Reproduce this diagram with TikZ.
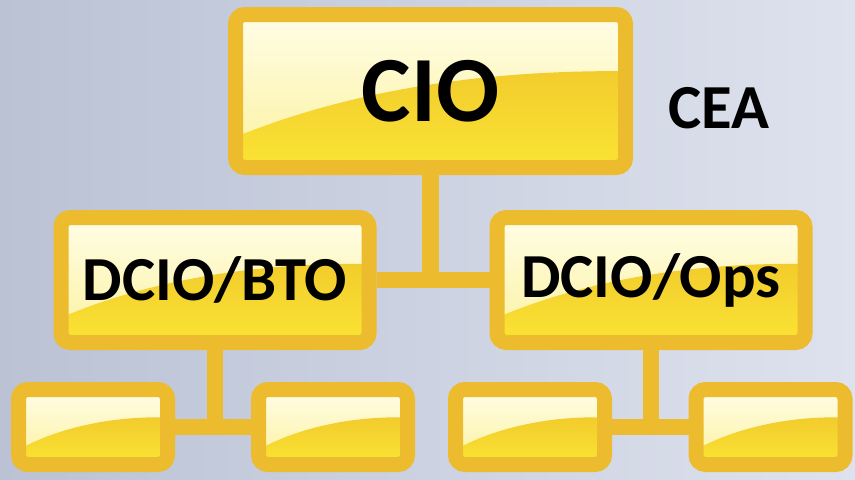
\documentclass[tikz,border=0pt]{standalone}
\usepackage{fontspec}
\setmainfont{Carlito}
\usetikzlibrary{calc,backgrounds}
\definecolor{boxedge}{RGB}{236,188,46}
\definecolor{boxtop}{RGB}{255,253,230}
\definecolor{boxmid}{RGB}{252,242,160}
\definecolor{glosstop}{RGB}{238,190,40}
\definecolor{glossbot}{RGB}{250,228,52}
\definecolor{bgleft}{RGB}{186,194,212}
\definecolor{bgright}{RGB}{222,226,238}

\begin{document}
\begin{tikzpicture}[x=0.75pt,y=-0.75pt,
  orgbox/.style={draw=boxedge,line width=11.25pt,rounded corners=7pt,
    top color=boxtop,bottom color=boxmid,inner sep=0pt,
    path picture={\shade[top color=glosstop,bottom color=glossbot]
      let \p1=(path picture bounding box.south west),
          \p2=(path picture bounding box.north east) in
      (\p1) -- ({\x1},{\y1+0.2*(\y2-\y1)})
      .. controls ({\x1+0.25*(\x2-\x1)},{\y1+0.45*(\y2-\y1)})
      and ({\x1+0.55*(\x2-\x1)},{\y1+0.62*(\y2-\y1)})
      .. ({\x1+0.96*(\x2-\x1)},{\y1+0.63*(\y2-\y1)})
      -- ({\x2},{\y1+0.63*(\y2-\y1)}) -- ({\x2},{\y1}) -- cycle;}},
  bigbox/.style={orgbox,minimum width=231pt,minimum height=93.75pt,
    font=\bfseries\fontsize{47}{50}\selectfont},
  smallbox/.style={orgbox,minimum width=111.75pt,minimum height=56.25pt},
  link/.style={draw=boxedge,line width=12.5pt}]
\useasboundingbox (0,0) rectangle (855,479);

\node[orgbox,minimum width=292.5pt,minimum height=114.75pt,
  font=\bfseries\fontsize{70}{74}\selectfont] (cio) at (430.5,91) {CIO};
\node[font=\bfseries\fontsize{47}{50}\selectfont,anchor=base] (cea) at (719,128) {CEA};

\node[bigbox] (bto) at (215,280) {DCIO/BTO};
\node[bigbox] (ops) at (651,280) {DCIO/Ops};

\node[smallbox] (bto1) at (93,427) {};
\node[smallbox] (bto2) at (333,427) {};
\node[smallbox] (ops1) at (530,427) {};
\node[smallbox] (ops2) at (770.5,427) {};

\begin{scope}[on background layer]
\shade[left color=bgleft,right color=bgright] (0,0) rectangle (855,479);
\draw[link] (cio.south) -- (cio.south |- bto.east);
\draw[link] (bto.east) -- (ops.west);
\draw[link] (bto.south) -- (bto.south |- bto1.east);
\draw[link] (bto1.east) -- (bto2.west);
\draw[link] (ops.south) -- (ops.south |- ops1.east);
\draw[link] (ops1.east) -- (ops2.west);
\end{scope}
\end{tikzpicture}
\end{document}
